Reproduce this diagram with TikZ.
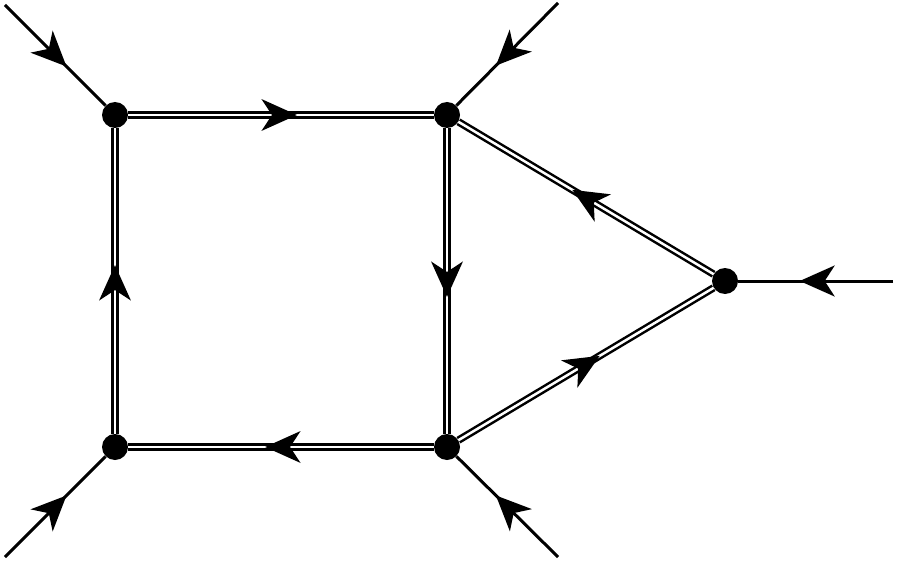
\documentclass[tikz,border=0pt]{standalone}
\usepackage{tikz}
\usetikzlibrary{arrows.meta, decorations.markings}

\tikzset{
	vertex/.style={circle, fill=black, inner sep=0pt, minimum size=0.52cm},
	midarrow/.style={postaction={decorate, decoration={markings,
		mark=at position 0.5 with {\arrow[xshift=0.32cm]{Stealth[length=0.7cm, width=0.62cm, inset=0.2cm]}}}}},
	leg/.style={line width=0.06cm, midarrow},
	prop/.style={line width=0.05cm, double=white, double distance=0.05cm, midarrow}
}

\begin{document}
\begin{tikzpicture}
	\useasboundingbox (0,0) rectangle (17.96,11.28);
	
	% vertices
	\node[vertex] (TL) at (2.3,8.98) {};
	\node[vertex] (TR) at (8.94,8.98) {};
	\node[vertex] (BL) at (2.3,2.34) {};
	\node[vertex] (BR) at (8.94,2.34) {};
	\node[vertex] (R) at (14.5,5.66) {};
	
	% external ends
	\coordinate (inTL) at (0.1,11.18);
	\coordinate (inTR) at (11.16,11.22);
	\coordinate (inBL) at (0.1,0.14);
	\coordinate (inBR) at (11.16,0.14);
	\coordinate (inR) at (17.86,5.66);
	
	% box and triangle
	\draw[prop] (TL) -- (TR);
	\draw[prop] (TR) -- (BR);
	\draw[prop] (BR) -- (BL);
	\draw[prop] (BL) -- (TL);
	\draw[prop] (R) -- (TR);
	\draw[prop] (BR) -- (R);
	
	% legs
	\draw[leg] (inTL) -- (TL);
	\draw[leg] (inTR) -- (TR);
	\draw[leg] (inBL) -- (BL);
	\draw[leg] (inBR) -- (BR);
	\draw[leg] (inR) -- (R);
\end{tikzpicture}
\end{document}
